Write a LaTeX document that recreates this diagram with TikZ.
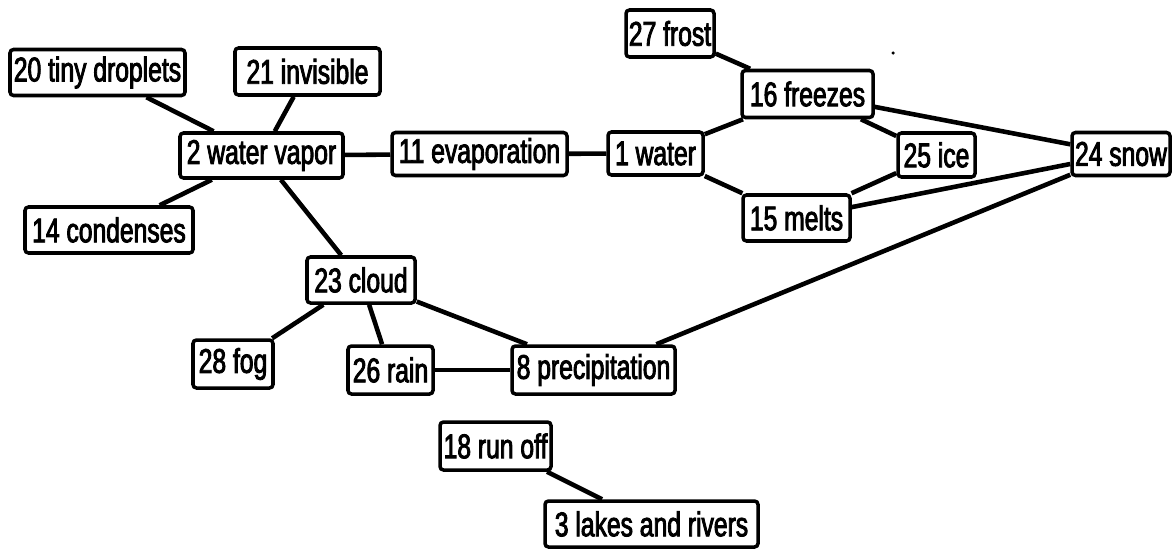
\documentclass[tikz,border=0pt]{standalone}
\usepackage{fontspec}
\setmainfont{Liberation Sans}[FakeStretch=0.72,FakeBold=2.5]
\begin{document}
\begin{tikzpicture}[x=0.02cm,y=-0.02cm,
  concept/.style={draw=black, line width=2pt, rounded corners=0.07cm, inner sep=0pt,
    font=\fontsize{19.5pt}{21pt}\selectfont, fill=white},
  wh/.style 2 args={minimum width=#1*0.02cm, minimum height=#2*0.02cm},
  link/.style={line width=2.6pt, black}]
\useasboundingbox (0,0) rectangle (1175,548);
% nodes
\node[concept, wh={175}{46}] (n20) at (97.5,72.5) {20 tiny droplets};
\node[concept, wh={145}{47}] (n21) at (307.5,71.5) {21 invisible};
\node[concept, wh={163}{45}] (n2)  at (261.5,155.5) {2 water vapor};
\node[concept, wh={175}{43}] (n11) at (479.5,154) {11 evaporation};
\node[concept, wh={95}{43}]  (n1)  at (655.5,153.5) {1 water};
\node[concept, wh={88}{47}]  (n27) at (670,33.5) {27 frost};
\node[concept, wh={131}{47}] (n16) at (807.5,94) {16 freezes};
\node[concept, wh={77}{44}]  (n25) at (936.5,155) {25 ice};
\node[concept, wh={98}{43}]  (n24) at (1121,154) {24 snow};
\node[concept, wh={107}{46}] (n15) at (796.5,218) {15 melts};
\node[concept, wh={168}{46}] (n14) at (109,230) {14 condenses};
\node[concept, wh={108}{46}] (n23) at (361,280) {23 cloud};
\node[concept, wh={80}{48}]  (n28) at (233,364) {28 fog};
\node[concept, wh={85}{48}]  (n26) at (390.5,370) {26 rain};
\node[concept, wh={163}{48}] (n8)  at (593.5,370) {8 precipitation};
\node[concept, wh={111}{48}] (n18) at (495.5,446) {18 run off};
\node[concept, wh={213}{46}] (n3)  at (651.5,524) {3 lakes and rivers};
% stray dot
\fill (893,53) circle (0.035cm);
% links
\draw[link] (n20) -- (n2);
\draw[link] (n21) -- (n2);
\draw[link] (n14) -- (n2);
\draw[link] (n2) -- (n11);
\draw[link] (n11) -- (n1);
\draw[link] (n2) -- (n23);
\draw[link] (n1) -- (n16);
\draw[link] (n1) -- (n15);
\draw[link] (n27) -- (n16);
\draw[link] (n16) -- (n25);
\draw[link] (n25) -- (n15);
\draw[link] (n16) -- (n24);
\draw[link] (n15) -- (n24);
\draw[link] (n23) -- (n28);
\draw[link] (n23) -- (n26);
\draw[link] (n23) -- (n8);
\draw[link] (n26) -- (n8);
\draw[link] (n8) -- (n24);
\draw[link] (n18) -- (n3);
\end{tikzpicture}
\end{document}
